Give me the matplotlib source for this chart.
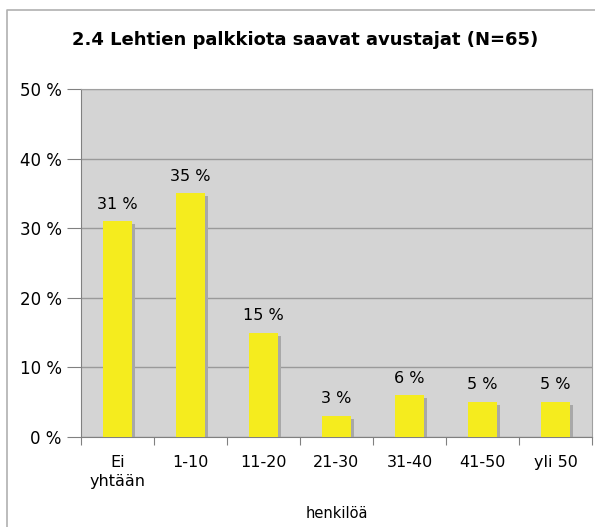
import matplotlib
matplotlib.use('Agg')
import matplotlib.pyplot as plt
import matplotlib.transforms as mtransforms
from matplotlib.lines import Line2D

categories = ['Ei\nyhtään', '1-10', '11-20', '21-30', '31-40', '41-50', 'yli 50']
values = [31, 35, 15, 3, 6, 5, 5]
yticks = [0, 10, 20, 30, 40, 50]

plt.rcParams['font.family'] = ['DejaVu Sans']

fig = plt.figure(figsize=(5.95, 5.27), dpi=100)
# outer frame (only left and top edges are visible)
fx, fy = 7 / 595, 1 - 10 / 527
fig.lines.append(Line2D([fx, fx, 1.0], [0.0, fy, fy], transform=fig.transFigure,
                        color='#b0b0b0', linewidth=1.2))

ax = fig.add_axes([81 / 595, 1 - 437 / 527, 511 / 595, 348 / 527])
ax.set_facecolor('#d4d4d4')

x = list(range(len(categories)))
shadow = mtransforms.offset_copy(ax.transData, fig=fig, x=3, y=-3, units='dots')
ax.bar(x, values, width=0.4, color='#a8a8a8', transform=shadow, zorder=2)
ax.bar(x, values, width=0.4, color='#f5ec1e', zorder=3)

for xi, v in zip(x, values):
    ax.annotate(f'{v} %', (xi, v), xytext=(0, 7), textcoords='offset points',
                ha='center', va='bottom', fontsize=11.5, zorder=4)

ax.set_xlim(-0.5, len(categories) - 0.5)
ax.set_ylim(0, 50)
ax.set_yticks(yticks)
ax.set_yticklabels([f'{t} %' for t in yticks], fontsize=12)
ax.yaxis.grid(True, color='#9a9a9a', linewidth=1)
ax.set_axisbelow(True)
ax.set_xticks([i - 0.5 for i in range(len(categories) + 1)], minor=False)
ax.set_xticklabels([])
ax.set_xticks(x, minor=True)
ax.set_xticklabels(categories, minor=True, fontsize=11.5, linespacing=1.35)
ax.tick_params(axis='x', which='minor', length=0, pad=13)
ax.tick_params(axis='x', which='major', length=6, color='#808080', direction='out')
ax.tick_params(axis='y', length=10, color='#808080', pad=4)

for s in ['left', 'bottom']:
    ax.spines[s].set_color('#808080')
for s in ['top', 'right']:
    ax.spines[s].set_color('#a0a0a0')

ax.set_xlabel('henkilöä', fontsize=10.5, labelpad=12)
fig.text(305 / 595, 1 - 40 / 527, '2.4 Lehtien palkkiota saavat avustajat (N=65)',
         ha='center', va='center', fontsize=13, fontweight='bold')

fig.savefig('out.png', dpi=100)
